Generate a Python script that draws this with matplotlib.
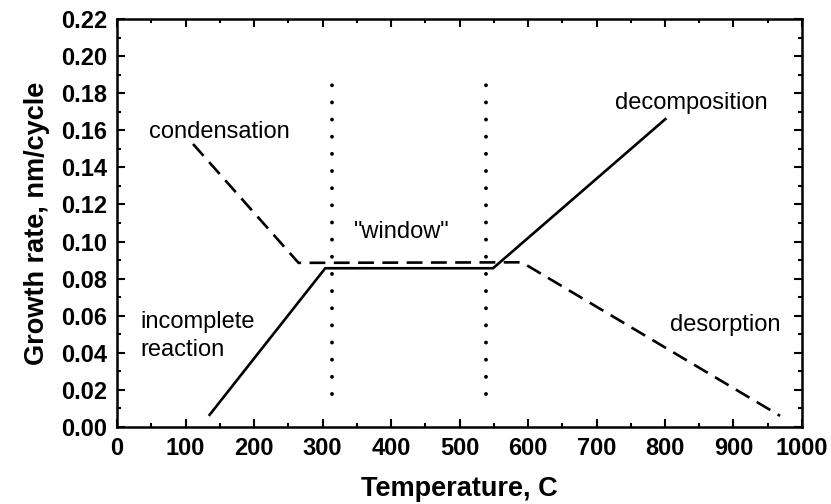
import matplotlib.pyplot as plt
from matplotlib.ticker import MultipleLocator

plt.rcParams['font.family'] = ['Liberation Sans', 'DejaVu Sans']

# ALD growth-rate schematic
temp_solid = [134, 304, 549, 802]
rate_solid = [0.006, 0.0856, 0.0856, 0.1665]

temp_dash = [111, 265, 591, 968]
rate_dash = [0.1526, 0.0885, 0.0888, 0.006]

window_edges = [314, 539]
window_span = [0.018, 0.191]

fig = plt.figure(figsize=(8.31, 5.04), dpi=100)
ax = fig.add_axes([0.1408, 0.1528, 0.8243, 0.8095])

ax.plot(temp_solid, rate_solid, color='black', lw=1.9, solid_capstyle='butt')
ax.plot(temp_dash, rate_dash, color='black', lw=1.9, dashes=(6, 3.2))
for xe in window_edges:
    ax.plot([xe, xe], window_span, color='black', lw=2.8,
            dashes=(0.01, 4.4), dash_capstyle='round')

txt = dict(fontsize=17, color='black')
ax.text(47, 0.159, 'condensation', va='center', ha='left', **txt)
ax.text(34, 0.0568, 'incomplete', va='center', ha='left', **txt)
ax.text(34, 0.0415, 'reaction', va='center', ha='left', **txt)
ax.text(416, 0.1053, '"window"', va='center', ha='center', **txt)
ax.text(727, 0.1745, 'decomposition', va='center', ha='left', **txt)
ax.text(807, 0.055, 'desorption', va='center', ha='left', **txt)

ax.set_xlim(0, 1000)
ax.set_ylim(0, 0.22)
ax.xaxis.set_major_locator(MultipleLocator(100))
ax.xaxis.set_minor_locator(MultipleLocator(50))
ax.yaxis.set_major_locator(MultipleLocator(0.02))
ax.yaxis.set_minor_locator(MultipleLocator(0.01))
ax.yaxis.set_major_formatter(plt.FormatStrFormatter('%.2f'))

ax.tick_params(which='both', direction='in', top=True, right=True, width=1.5)
ax.tick_params(which='major', length=6, labelsize=17, pad=7)
ax.tick_params(which='minor', length=3)
for lab in ax.get_xticklabels() + ax.get_yticklabels():
    lab.set_fontweight('bold')
for sp in ax.spines.values():
    sp.set_linewidth(1.8)

ax.set_xlabel('Temperature, C', fontsize=19.5, fontweight='bold', labelpad=12)
ax.set_ylabel('Growth rate, nm/cycle', fontsize=19.5, fontweight='bold', labelpad=8)

fig.savefig('out.png', dpi=100)
